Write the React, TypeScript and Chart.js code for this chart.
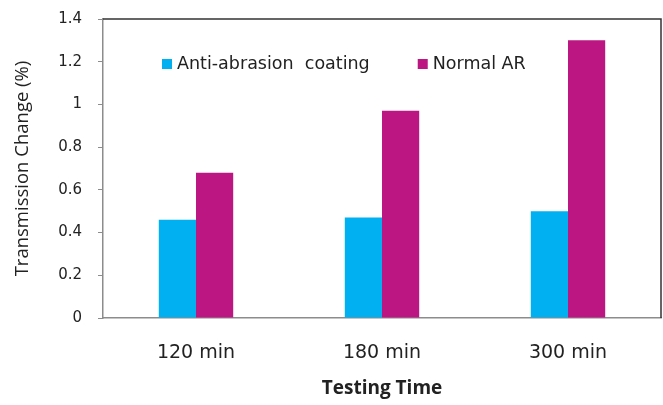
import React, { useEffect, useRef } from "react";
import { Chart, registerables } from "chart.js";

Chart.register(...registerables);

const categories = ["120 min", "180 min", "300 min"];
const antiAbrasion = [0.46, 0.47, 0.5];
const normalAR = [0.68, 0.97, 1.3];
const seriesLabels = ["Anti-abrasion  coating", "Normal AR"];
const seriesColors = ["#00B0F0", "#BC1682"];
const yTickLabels = ["0", "0.2", "0.4", "0.6", "0.8", "1", "1.2", "1.4"];
const yTitle = "Transmission Change (%)";
const xTitle = "Testing Time";

const insideLegend = {
  id: "insideLegend",
  afterDraw(chart: any) {
    const { ctx, chartArea } = chart;
    ctx.save();
    ctx.font = "17.5px 'DejaVu Sans'";
    ctx.textBaseline = "middle";
    ctx.textAlign = "left";
    let x = chartArea.left + 59;
    const y = chartArea.top + 45;
    chart.data.datasets.forEach((ds: any) => {
      ctx.fillStyle = ds.backgroundColor;
      ctx.fillRect(x, y - 5, 10, 10);
      ctx.fillStyle = "#222";
      ctx.fillText(ds.label, x + 15, y);
      x += 15 + ctx.measureText(ds.label).width + 48;
    });
    ctx.restore();
  },
};

const frameLines = {
  id: "frameLines",
  afterDatasetsDraw(chart: any) {
    const { ctx, chartArea } = chart;
    ctx.save();
    ctx.lineWidth = 1.5;
    ctx.strokeStyle = "#333";
    ctx.beginPath();
    ctx.moveTo(chartArea.left, chartArea.top);
    ctx.lineTo(chartArea.right, chartArea.top);
    ctx.lineTo(chartArea.right, chartArea.bottom);
    ctx.stroke();
    ctx.restore();
  },
};

export default function App() {
  const ref = useRef<HTMLCanvasElement>(null);
  useEffect(() => {
    const chart = new Chart(ref.current!, {
      type: "bar",
      data: {
        labels: categories,
        datasets: [
          { label: seriesLabels[0], data: antiAbrasion, backgroundColor: seriesColors[0] },
          { label: seriesLabels[1], data: normalAR, backgroundColor: seriesColors[1] },
        ],
      },
      plugins: [insideLegend, frameLines],
      options: {
        animation: false,
        responsive: false,
        maintainAspectRatio: false,
        layout: { padding: { top: 19, right: 2, left: 0, bottom: 0 } },
        datasets: { bar: { categoryPercentage: 0.4, barPercentage: 1 } },
        plugins: { legend: { display: false }, tooltip: { enabled: false } },
        scales: {
          x: {
            grid: { display: false },
            border: { display: true, color: "#8c8c8c", width: 1.5 },
            ticks: { color: "#222", font: { family: "DejaVu Sans", size: 19 }, padding: 16 },
            title: {
              display: true,
              text: xTitle,
              color: "#222",
              font: { family: "Open Sans", size: 19, weight: "bold" },
              padding: { top: 0, bottom: 5 },
            },
            afterFit(scale: any) {
              scale.height = 87;
            },
          },
          y: {
            min: 0,
            max: 1.4,
            ticks: {
              stepSize: 0.2,
              color: "#222",
              font: { family: "DejaVu Sans", size: 15 },
              padding: 16,
              callback: (_v: any, i: number) => yTickLabels[i],
            },
            grid: { display: true, drawOnChartArea: false, tickLength: 5, color: "#8c8c8c" },
            border: { display: true, color: "#8c8c8c", width: 1.5 },
            title: {
              display: true,
              text: yTitle,
              color: "#222",
              font: { family: "Open Sans", size: 18.5 },
              padding: { top: 12, bottom: 0 },
            },
            afterFit(scale: any) {
              scale.width = 103;
              scale.paddingTop = 0;
              scale.paddingBottom = 0;
            },
          },
        },
      },
    });
    return () => chart.destroy();
  }, []);
  return (
    <div style={{ position: "fixed", left: 0, top: 0, width: 663, height: 405, background: "#fff" }}>
      <canvas ref={ref} width={663} height={405} />
    </div>
  );
}
